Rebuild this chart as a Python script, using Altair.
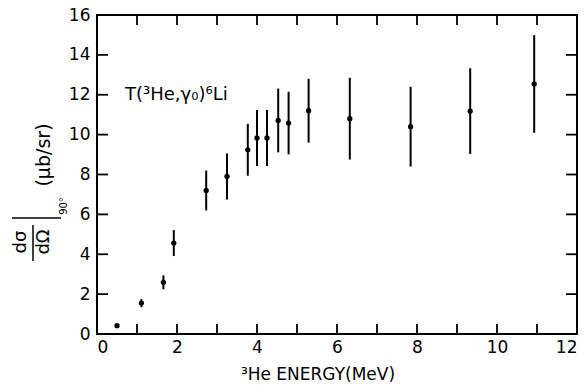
import altair as alt
import pandas as pd

# Data
energy = [0.50, 1.11, 1.66, 1.92, 2.73, 3.25, 3.77, 4.00, 4.25, 4.53, 4.79, 5.29, 6.32, 7.84, 9.33, 10.93]
xsec = [0.42, 1.55, 2.59, 4.56, 7.20, 7.90, 9.24, 9.83, 9.83, 10.71, 10.58, 11.20, 10.80, 10.40, 11.18, 12.54]
err = [0.0, 0.20, 0.35, 0.65, 1.00, 1.15, 1.30, 1.40, 1.40, 1.60, 1.57, 1.60, 2.05, 2.00, 2.15, 2.45]

x_ticks = list(range(0, 13))
x_labels = [0, 2, 4, 6, 8, 10, 12]
y_ticks = [0, 2, 4, 6, 8, 10, 12, 14, 16]

W, H = 480, 319
XMAX, YMAX = 12, 16
FONT = "DejaVu Sans"

df = pd.DataFrame({"E": energy, "s": xsec, "e": err})
df["lo"] = df["s"] - df["e"]
df["hi"] = df["s"] + df["e"]

xs = alt.Scale(domain=[0, XMAX], nice=False, zero=False)
ys = alt.Scale(domain=[0, YMAX], nice=False, zero=False)

axX = alt.Axis(values=x_labels, domain=False, ticks=False, grid=False,
               labelFontSize=17, labelFont=FONT, labelColor="black",
               labelPadding=5, title=None, format="d", labelOverlap=False)
axY = alt.Axis(values=y_ticks, domain=False, ticks=False, grid=False,
               labelFontSize=17, labelFont=FONT, labelColor="black",
               labelPadding=7, title=None, format="d", labelOverlap=False)

base = alt.Chart(df)

points = base.mark_circle(size=28, color="black", opacity=1).encode(
    x=alt.X("E:Q", scale=xs, axis=axX),
    y=alt.Y("s:Q", scale=ys, axis=axY),
)

bars = base.mark_rule(color="black", strokeWidth=2).encode(
    x=alt.X("E:Q", scale=xs, axis=axX), y=alt.Y("lo:Q", scale=ys, axis=axY), y2="hi:Q"
)

# inward tick marks (lengths converted from pixels to data units)
ty = 10 * YMAX / H
tx = 11 * XMAX / W
xt_b = pd.DataFrame({"t": x_ticks, "a": 0.0, "b": ty})
xt_t = pd.DataFrame({"t": x_ticks, "a": YMAX - ty, "b": float(YMAX)})
yt_l = pd.DataFrame({"t": y_ticks, "a": 0.0, "b": tx})
yt_r = pd.DataFrame({"t": y_ticks, "a": XMAX - tx, "b": float(XMAX)})

def xtick(d):
    return alt.Chart(d).mark_rule(color="black", strokeWidth=1.8).encode(
        x=alt.X("t:Q", scale=xs, axis=axX), y=alt.Y("a:Q", scale=ys, axis=axY), y2="b:Q")

def ytick(d):
    return alt.Chart(d).mark_rule(color="black", strokeWidth=1.8).encode(
        y=alt.Y("t:Q", scale=ys, axis=axY), x=alt.X("a:Q", scale=xs, axis=axX), x2="b:Q")

one = alt.Data(values=[{"a": 1}])

def txt(text, x, y, size, angle=0, align="center", baseline="middle"):
    kw = dict(fontSize=size, font=FONT, color="black", align=align, baseline=baseline)
    if angle:
        kw["angle"] = angle
    return alt.Chart(one).mark_text(**kw).encode(
        x=alt.value(x), y=alt.value(y), text=alt.value(text))

def seg(x1, y1, x2, y2):
    return alt.Chart(one).mark_rule(color="black", strokeWidth=1.5).encode(
        x=alt.value(x1), y=alt.value(y1), x2=alt.value(x2), y2=alt.value(y2))

reaction = txt("T(³He,γ₀)⁶Li", 28, 80, 18, align="left")
xtitle = txt("³He ENERGY(MeV)", 221, 360, 17)
units = txt("(μb/sr)", -53, 140, 19, angle=270)
dsig = txt("dσ", -76, 227, 18, angle=270)
domg = txt("dΩ", -53, 227, 18, angle=270)
sub90 = txt("90°", -33, 191, 10, angle=270)
frac_line = seg(-64, 210, -64, 246)
eval_bar = seg(-85, 203, -36, 203)

chart = alt.layer(
    points, bars,
    xtick(xt_b), xtick(xt_t), ytick(yt_l), ytick(yt_r),
    reaction, xtitle, units, dsig, domg, sub90, frac_line, eval_bar
).properties(
    width=W, height=H,
    autosize=alt.AutoSizeParams(type="none"),
    padding={"left": 97, "top": 15, "right": 8, "bottom": 54},
    background="white",
).configure_view(stroke="black", strokeWidth=2)

chart.save("out.html", embed_options={"renderer": "svg", "actions": False})
